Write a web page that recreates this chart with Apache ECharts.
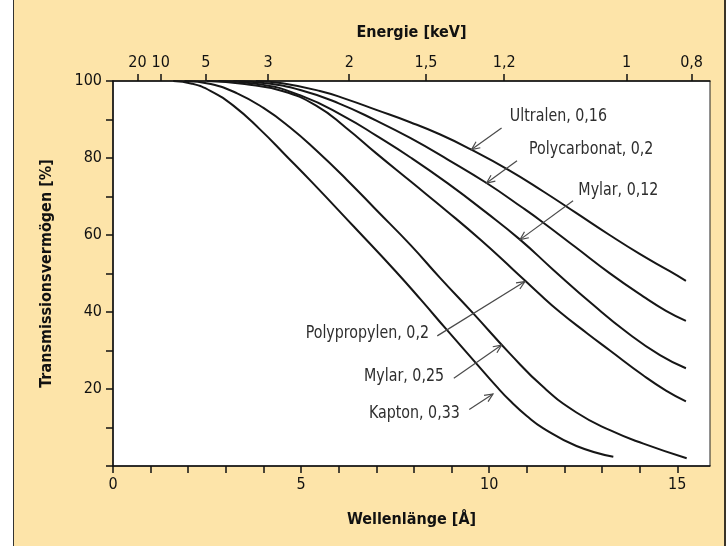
<!DOCTYPE html>
<html>
<head>
<meta charset="utf-8">
<script src="https://cdn.jsdelivr.net/npm/echarts@6/dist/echarts.min.js"></script>
<style>
  html, body { margin: 0; padding: 0; background: #ffffff; }
  #wrap { position: relative; width: 728px; height: 546px; overflow: hidden; }
  #panel { position: absolute; left: 13px; top: 0; width: 710px; height: 546px;
           background: #fde4a9; border-left: 1px solid #333; border-right: 2px solid #3a3428; }
  #chart { position: absolute; left: 0; top: 0; width: 728px; height: 546px; }
</style>
</head>
<body>
<div id="wrap"><div id="panel"></div><div id="chart"></div></div>
<script>
// ---- Axis ticks / labels ----
const xTickValues = [0,1,2,3,4,5,6,7,8,9,10,11,12,13,14,15];
const xLabelValues = [0,5,10,15];
const yLabelValues = [20,40,60,80,100];
const energyLabels = ['20','10','5','3','2','1,5','1,2','1','0,8'];
const energyPositions = [0.65,1.27,2.47,4.12,6.28,8.32,10.40,13.65,15.38];

// ---- Series data: [wavelength Å, transmission %] ----
const ultralen016 = [[3.8,100],[4.5,99.4],[5.5,97.4],[6.2,95.3],[7.0,92.5],[7.9,89.3],[8.7,86.1],[9.5,82.3],[10.5,77],[11.44,71.3],[12.3,65.8],[13.2,60],[14.0,55.1],[14.8,50.6],[15.23,48.1]];
const polycarbonat02 = [[3.2,100],[4.0,99.5],[5.0,97.6],[6.0,94.2],[7.0,89.7],[7.9,85.2],[8.9,79.6],[9.93,73.5],[10.9,67],[11.44,63.2],[12.3,56.8],[13.2,50.1],[14.1,44],[14.7,40.3],[15.23,37.7]];
const mylar012 = [[2.8,100],[3.8,99.3],[5.0,96.2],[6.2,90.5],[7.0,85.8],[7.9,80.2],[8.9,73.4],[9.9,66],[10.82,58.8],[11.7,51],[12.77,41.8],[13.65,34.8],[14.54,28.8],[15.23,25.4]];
const polypropylen02 = [[2.5,100],[3.5,99.2],[4.5,97.4],[5.4,93.6],[6.2,87.8],[7.0,81.2],[7.9,74],[8.9,66],[9.8,58.5],[10.64,51],[11.3,45],[11.88,40],[12.6,34.5],[13.21,30],[14.1,23.5],[14.7,19.6],[15.23,16.8]];
const mylar025 = [[1.9,100],[2.6,99.2],[3.3,96.8],[4.0,93],[4.7,88],[5.4,82],[6.2,74.5],[7.0,66.5],[7.9,57.5],[8.7,48.8],[9.57,39.7],[10.55,29.2],[11.44,20.5],[12.32,13.9],[13.21,9.3],[14.1,5.8],[15.25,2.0]];
const kapton033 = [[1.6,100],[2.1,99.3],[2.6,97.4],[3.2,93.6],[3.9,87.5],[4.6,80.6],[5.3,73.6],[6.4,62.2],[7.53,50.4],[8.2,43],[8.87,35.4],[9.66,26.6],[10.2,20.6],[10.55,17.0],[11.0,13],[11.44,9.8],[12.32,5.2],[13.3,2.4]];

// ---- Annotations ----
const annotationTexts = ['Ultralen, 0,16','Polycarbonat, 0,2','Mylar, 0,12','Polypropylen, 0,2','Mylar, 0,25','Kapton, 0,33'];
const annotationAlign = ['left','left','left','right','right','right'];
const labelAnchors = [[10.55,90.8],[11.06,82.3],[12.37,71.5],[8.40,34.5],[8.80,23.4],[9.22,13.8]];
const arrowFrom = [[10.33,87.8],[10.74,79.3],[12.23,68.9],[8.62,33.8],[9.06,22.8],[9.47,14.7]];
const arrowTo = [[9.53,82.2],[9.93,73.5],[10.82,58.8],[10.95,47.9],[10.33,31.4],[10.1,18.7]];

const FONT = '"Liberation Sans Narrow", "Arial Narrow", "DejaVu Sans Condensed", sans-serif';

const curves = [ultralen016, polycarbonat02, mylar012, polypropylen02, mylar025, kapton033];
const curveNames = ['Ultralen 0,16','Polycarbonat 0,2','Mylar 0,12','Polypropylen 0,2','Mylar 0,25','Kapton 0,33'];

const annData = annotationTexts.map((t, i) => [arrowFrom[i][0], arrowFrom[i][1], arrowTo[i][0], arrowTo[i][1], labelAnchors[i][0], labelAnchors[i][1]]);

const chart = echarts.init(document.getElementById('chart'), null, {renderer: 'canvas'});

const series = curves.map((d, i) => ({
  name: curveNames[i], type: 'line', data: d, smooth: 0.5,
  showSymbol: false, symbol: 'none', lineStyle: {color: '#161616', width: 2}, z: 3, silent: true
}));

series.push({
  type: 'custom', data: annData, silent: true, z: 4, clip: false,
  encode: {x: [0, 2, 4], y: [1, 3, 5]},
  renderItem: function (params, api) {
    const i = params.dataIndex;
    const p1 = api.coord([api.value(0), api.value(1)]);
    const p2 = api.coord([api.value(2), api.value(3)]);
    const lp = api.coord([api.value(4), api.value(5)]);
    const ang = Math.atan2(p2[1] - p1[1], p2[0] - p1[0]);
    const L = 9, a = 0.42;
    const h1 = [p2[0] - L * Math.cos(ang - a), p2[1] - L * Math.sin(ang - a)];
    const h2 = [p2[0] - L * Math.cos(ang + a), p2[1] - L * Math.sin(ang + a)];
    return {
      type: 'group', children: [
        {type: 'line', shape: {x1: p1[0], y1: p1[1], x2: p2[0], y2: p2[1]}, style: {stroke: '#4a4a4a', lineWidth: 1.2}},
        {type: 'polyline', shape: {points: [h1, p2, h2]}, style: {stroke: '#4a4a4a', lineWidth: 1.2, fill: null}},
        {type: 'text', x: lp[0], y: lp[1], scaleX: 0.88, scaleY: 1,
          style: {text: annotationTexts[i], x: 0, y: 0,
          align: annotationAlign[i], verticalAlign: 'middle', textAlign: annotationAlign[i], textVerticalAlign: 'middle',
          fill: '#2e2e2e', font: '18px ' + FONT}}
      ]
    };
  }
});

const axisLineStyle = {color: '#111', width: 1.5};

const option = {
  backgroundColor: 'transparent',
  animation: false,
  grid: {left: 113, top: 81, right: 18, bottom: 80, show: true, backgroundColor: '#ffffff', borderColor: '#222', borderWidth: 1},
  xAxis: [
    {
      type: 'value', position: 'bottom', min: 0, max: 15.87,
      name: 'Wellenlänge [Å]', nameLocation: 'middle', nameGap: 46,
      nameTextStyle: {fontFamily: FONT, fontWeight: 'bold', fontSize: 16, color: '#111'},
      axisLine: {show: true, lineStyle: axisLineStyle},
      axisTick: {show: true, inside: false, length: 7, customValues: xTickValues, lineStyle: axisLineStyle},
      axisLabel: {customValues: xLabelValues, margin: 11, fontFamily: FONT, fontSize: 16, color: '#111'},
      splitLine: {show: false}
    },
    {
      type: 'value', position: 'top', min: 0, max: 15.87,
      name: 'Energie [keV]', nameLocation: 'middle', nameGap: 40,
      nameTextStyle: {fontFamily: FONT, fontWeight: 'bold', fontSize: 16, color: '#111'},
      axisLine: {show: true, lineStyle: axisLineStyle},
      axisTick: {show: true, inside: false, length: 7, customValues: energyPositions, lineStyle: axisLineStyle},
      axisLabel: {customValues: energyPositions, margin: 10, fontFamily: FONT, fontSize: 16, color: '#111',
        formatter: function (v) {
          let best = 0, bd = Infinity;
          energyPositions.forEach((p, k) => { const d = Math.abs(p - v); if (d < bd) { bd = d; best = k; } });
          return energyLabels[best];
        }},
      splitLine: {show: false}
    }
  ],
  yAxis: {
    type: 'value', min: 0, max: 100, interval: 10,
    name: 'Transmissionsvermögen [%]', nameLocation: 'middle', nameGap: 58,
    nameTextStyle: {fontFamily: FONT, fontWeight: 'bold', fontSize: 16, color: '#111'},
    axisLine: {show: true, lineStyle: axisLineStyle},
    axisTick: {show: true, inside: false, length: 7, lineStyle: axisLineStyle},
    axisLabel: {customValues: yLabelValues, margin: 11, fontFamily: FONT, fontSize: 16, color: '#111'},
    splitLine: {show: false}
  },
  series: series
};

chart.setOption(option);
</script>
</body>
</html>
